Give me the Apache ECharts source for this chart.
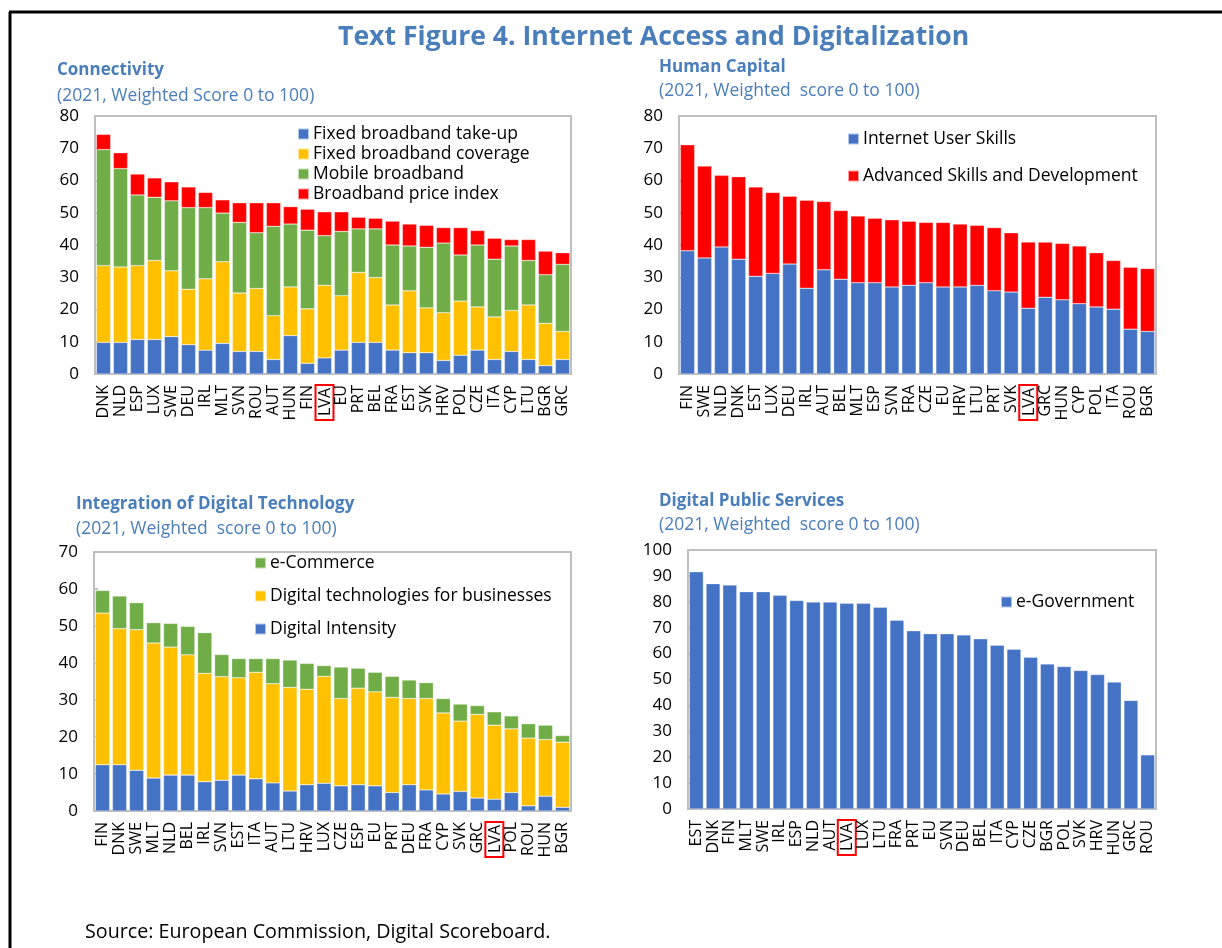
<!DOCTYPE html>
<html>
<head>
<meta charset="utf-8">
<script src="https://cdn.jsdelivr.net/npm/echarts@6/dist/echarts.min.js"></script>
<style>
html,body{margin:0;padding:0;background:#fff;}
#c{width:1222px;height:948px;}
</style>
</head>
<body>
<div id="c"></div>
<script>
// ---------- Data ----------
const conCats = ['DNK','NLD','ESP','LUX','SWE','DEU','IRL','MLT','SVN','ROU','AUT','HUN','FIN','LVA','EU','PRT','BEL','FRA','EST','SVK','HRV','POL','CZE','ITA','CYP','LTU','BGR','GRC'];
const conTakeup   = [9.8,9.8,10.7,10.7,11.6,9.1,7.4,9.5,7.0,7.0,4.5,11.9,3.3,5.0,7.4,9.8,9.8,7.4,6.6,6.6,4.2,5.8,7.4,4.5,7.0,4.5,2.6,4.5];
const conCoverage = [23.8,23.4,22.9,24.5,20.4,17.2,22.1,25.3,18.1,19.5,13.6,15.1,16.9,22.5,16.9,21.7,20.1,14.0,19.2,13.9,14.8,16.8,13.4,13.2,12.7,16.9,13.1,8.7];
const conMobile   = [36.0,30.5,21.9,19.6,21.7,25.3,22.1,15.1,21.9,17.3,27.7,19.5,24.4,15.4,19.9,13.5,15.1,18.6,13.9,18.8,21.6,14.3,19.2,17.9,20.0,13.8,15.1,20.8];
const conPrice    = [4.7,4.9,6.5,6.0,5.9,6.4,4.7,4.1,6.1,9.3,7.3,5.4,6.5,7.4,6.1,3.6,3.3,7.4,6.8,6.8,4.8,8.5,4.5,6.5,2.0,6.5,7.3,3.6];

const hcCats = ['FIN','SWE','NLD','DNK','EST','LUX','DEU','IRL','AUT','BEL','MLT','ESP','SVN','FRA','CZE','EU','HRV','LTU','PRT','SVK','LVA','GRC','HUN','CYP','POL','ITA','ROU','BGR'];
const hcUser     = [38.2,36.0,39.4,35.6,30.3,31.2,34.1,26.6,32.3,29.4,28.3,28.3,27.0,27.5,28.3,27.0,27.0,27.5,25.8,25.4,20.4,23.8,23.0,21.8,20.8,20.1,13.9,13.2];
const hcAdvanced = [32.9,28.5,22.2,25.6,27.7,25.1,21.0,27.3,21.2,21.3,20.7,20.0,20.8,19.9,18.7,20.0,19.5,18.6,19.6,18.4,20.5,17.1,17.5,17.9,16.8,15.1,19.2,19.5];

const idtCats = ['FIN','DNK','SWE','MLT','NLD','BEL','IRL','SVN','EST','ITA','AUT','LTU','HRV','LUX','CZE','ESP','EU','PRT','DEU','FRA','CYP','SVK','GRC','LVA','POL','ROU','HUN','BGR'];
const idtIntensity = [12.5,12.5,11.0,8.9,9.7,9.7,7.9,8.3,9.7,8.7,7.6,5.4,7.1,7.5,6.8,7.1,6.8,5.0,7.1,5.7,4.6,5.3,3.5,3.2,5.0,1.4,4.0,1.0];
const idtTech      = [41.0,36.8,38.0,36.5,34.6,32.5,29.3,28.0,26.3,28.8,26.8,28.0,25.8,28.9,23.6,26.1,25.4,25.7,23.3,24.7,21.9,19.0,22.6,20.0,17.2,18.3,15.3,17.6];
const idtCommerce  = [6.1,8.8,7.3,5.5,6.4,7.7,11.0,6.0,5.2,3.7,6.8,7.4,7.0,2.9,8.5,5.4,5.3,5.7,5.0,4.3,3.9,4.6,2.4,3.6,3.5,3.9,3.9,1.8];

const dpsCats = ['EST','DNK','FIN','MLT','SWE','IRL','ESP','NLD','AUT','LVA','LUX','LTU','FRA','PRT','EU','SVN','DEU','BEL','ITA','CYP','CZE','BGR','POL','SVK','HRV','HUN','GRC','ROU'];
const dpsEgov = [91.6,87.0,86.5,83.9,83.9,82.5,80.5,79.9,79.9,79.4,79.4,77.9,72.9,68.8,67.7,67.7,67.2,65.7,63.2,61.7,58.6,56.0,55.0,53.5,51.9,49.0,41.9,20.9];

// ---------- Styles ----------
const FONT = '"Open Sans", "Noto Sans", sans-serif';
const BLUE = '#4472C4', YELLOW = '#FFC000', GREEN = '#70AD47', RED = '#FF0000';
const TITLE_COLOR = '#4A7EBB';

const chart = echarts.init(document.getElementById('c'), null, {renderer: 'canvas'});

function xAxis(gi, cats) {
  return {
    type: 'category', gridIndex: gi, data: cats,
    axisLine: {show: false}, axisTick: {show: false},
    axisLabel: {
      rotate: 90, interval: 0, margin: 11, color: '#000', fontSize: 16, fontFamily: FONT,
      formatter: v => v === 'LVA' ? '{box|' + v + '}' : v,
      rich: {box: {borderColor: '#FF0000', borderWidth: 2, padding: [2, 3, 0, 4], fontSize: 16, fontFamily: FONT, color: '#000'}}
    }
  };
}
function yAxis(gi, max) {
  return {
    type: 'value', gridIndex: gi, min: 0, max: max, interval: 10,
    splitLine: {show: false},
    axisLine: {show: false},
    axisTick: {show: true, inside: true, length: 4, lineStyle: {color: '#BFBFBF', width: 2}},
    axisLabel: {color: '#000', fontSize: 17, fontFamily: FONT, margin: 16}
  };
}
function bar(name, gi, data, color, stack) {
  return {
    name: name, type: 'bar', xAxisIndex: gi, yAxisIndex: gi, stack: stack, data: data,
    barCategoryGap: '16%',
    itemStyle: {color: color, borderColor: 'rgba(255,255,255,0.6)', borderWidth: 0.5},
    emphasis: {disabled: true}
  };
}
function gridBox(left, top, width, height) {
  return {left: left, top: top, width: width, height: height, show: true, borderColor: '#BFBFBF', borderWidth: 2, backgroundColor: '#fff'};
}
function legend(left, top, names, gap) {
  return {
    left: left, top: top, orient: 'vertical', data: names, itemGap: gap, padding: 0,
    itemWidth: 11, itemHeight: 11, icon: 'rect', selectedMode: false,
    textStyle: {fontSize: 17.5, fontFamily: FONT, color: '#000', padding: [0, 0, 0, -1]}
  };
}
const subT = (text, left, top, bold) => ({
  text: text, left: left, top: top, padding: 0,
  textStyle: {fontSize: bold ? 17 : 17.5, fontWeight: bold ? 'bold' : 'normal', color: TITLE_COLOR, fontFamily: FONT}
});

const option = {
  animation: false,
  textStyle: {fontFamily: FONT},
  title: [
    {text: 'Text Figure 4. Internet Access and Digitalization', left: 338, top: 24, padding: 0,
     textStyle: {fontSize: 26.6, fontWeight: 'bold', color: TITLE_COLOR, fontFamily: FONT}},
    subT('Connectivity', 57, 62, true),
    subT('(2021, Weighted Score 0 to 100)', 57, 87, false),
    subT('Human Capital', 659, 59, true),
    subT('(2021, Weighted  score 0 to 100)', 659, 82, false),
    subT('Integration of Digital Technology', 76, 496, true),
    subT('(2021, Weighted  score 0 to 100)', 76, 520, false),
    subT('Digital Public Services', 659, 493, true),
    subT('(2021, Weighted  score 0 to 100)', 659, 516, false),
    {text: 'Source: European Commission, Digital Scoreboard.', left: 85, top: 922, padding: 0,
     textStyle: {fontSize: 19.7, fontWeight: 'normal', color: '#000', fontFamily: FONT}}
  ],
  graphic: [
    {type: 'line', shape: {x1: 9, y1: 12, x2: 1222, y2: 12}, style: {stroke: '#000', lineWidth: 3}},
    {type: 'line', shape: {x1: 10, y1: 12, x2: 10, y2: 948}, style: {stroke: '#000', lineWidth: 3}}
  ],
  grid: [
    gridBox(95, 116, 476, 258),
    gridBox(679, 116, 477, 258),
    gridBox(94, 552, 477, 259),
    gridBox(688, 550, 468, 259)
  ],
  legend: [
    legend(297, 125, ['Fixed broadband take-up', 'Fixed broadband coverage', 'Mobile broadband', 'Broadband price index'], 2),
    legend(847, 130, ['Internet User Skills', 'Advanced Skills and Development'], 19),
    legend(254, 554, ['e-Commerce', 'Digital technologies for businesses', 'Digital Intensity'], 15),
    legend(1000, 593, ['e-Government'], 5)
  ],
  xAxis: [xAxis(0, conCats), xAxis(1, hcCats), xAxis(2, idtCats), xAxis(3, dpsCats)],
  yAxis: [yAxis(0, 80), yAxis(1, 80), yAxis(2, 70), yAxis(3, 100)],
  series: [
    bar('Fixed broadband take-up', 0, conTakeup, BLUE, 'c'),
    bar('Fixed broadband coverage', 0, conCoverage, YELLOW, 'c'),
    bar('Mobile broadband', 0, conMobile, GREEN, 'c'),
    bar('Broadband price index', 0, conPrice, RED, 'c'),
    bar('Internet User Skills', 1, hcUser, BLUE, 'h'),
    bar('Advanced Skills and Development', 1, hcAdvanced, RED, 'h'),
    bar('Digital Intensity', 2, idtIntensity, BLUE, 'i'),
    bar('Digital technologies for businesses', 2, idtTech, YELLOW, 'i'),
    bar('e-Commerce', 2, idtCommerce, GREEN, 'i'),
    bar('e-Government', 3, dpsEgov, BLUE, 'd')
  ]
};
chart.setOption(option);
</script>
</body>
</html>
